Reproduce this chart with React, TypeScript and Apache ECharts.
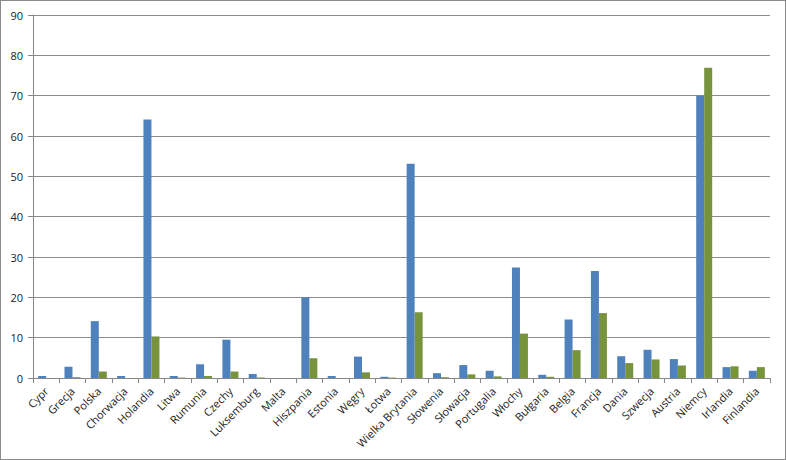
import React, { useEffect, useRef } from "react";
import * as echarts from "echarts";

const categories = [
  "Cypr", "Grecja", "Polska", "Chorwacja", "Holandia", "Litwa", "Rumunia", "Czechy",
  "Luksemburg", "Malta", "Hiszpania", "Estonia", "Węgry", "Łotwa", "Wielka Brytania",
  "Słowenia", "Słowacja", "Portugalia", "Włochy", "Bułgaria", "Belgia", "Francja",
  "Dania", "Szwecja", "Austria", "Niemcy", "Irlandia", "Finlandia",
];

const seriesBlue = [
  0.5, 2.8, 14.1, 0.5, 64.1, 0.5, 3.4, 9.5,
  1.0, 0, 20.0, 0.5, 5.3, 0.3, 53.1,
  1.2, 3.2, 1.8, 27.4, 0.8, 14.5, 26.5,
  5.4, 7.0, 4.7, 70.0, 2.7, 1.8,
];

const seriesGreen = [
  0, 0.2, 1.6, 0, 10.3, 0.1, 0.5, 1.6,
  0.1, 0, 4.9, 0, 1.4, 0.1, 16.3,
  0.2, 0.9, 0.4, 11.0, 0.3, 6.9, 16.1,
  3.7, 4.6, 3.1, 76.9, 2.9, 2.7,
];

const yTicks = { min: 0, max: 90, interval: 10 };

export default function App() {
  const ref = useRef<HTMLDivElement>(null);
  useEffect(() => {
    document.body.style.margin = "0";
    if (!ref.current) return;
    const chart = echarts.init(ref.current, undefined, { renderer: "svg" });
    const font = "'Open Sans', 'DejaVu Sans', sans-serif";
    chart.setOption({
      animation: false,
      backgroundColor: "#ffffff",
      grid: { left: 32, top: 14, right: 15, bottom: 81, containLabel: false },
      xAxis: {
        type: "category",
        data: categories,
        boundaryGap: true,
        axisLine: { show: true, lineStyle: { color: "#868686", width: 1 } },
        axisTick: { show: true, alignWithLabel: false, length: 5, lineStyle: { color: "#868686" } },
        axisLabel: {
          interval: 0,
          rotate: 45,
          color: "#222",
          fontSize: 11,
          fontFamily: font,
          margin: 11,
        },
        splitLine: { show: false },
      },
      yAxis: {
        type: "value",
        min: yTicks.min,
        max: yTicks.max,
        interval: yTicks.interval,
        axisLine: { show: true, lineStyle: { color: "#868686", width: 1 } },
        axisTick: { show: true, length: 5, inside: false, lineStyle: { color: "#868686" } },
        axisLabel: { color: "#222", fontSize: 11, fontFamily: font, margin: 10 },
        splitLine: { show: true, lineStyle: { color: "#8c8c8c", width: 1 } },
      },
      series: [
        {
          type: "bar",
          data: seriesBlue,
          barWidth: 8,
          barGap: "0%",
          itemStyle: { color: "#4F81BD" },
        },
        {
          type: "bar",
          data: seriesGreen,
          barWidth: 8,
          barGap: "0%",
          itemStyle: { color: "#77933C" },
        },
      ],
    });
    return () => chart.dispose();
  }, []);
  return (
    <div
      ref={ref}
      style={{
        width: 786,
        height: 460,
        boxSizing: "border-box",
        border: "1px solid #8a8a8a",
        position: "absolute",
        left: 0,
        top: 0,
      }}
    />
  );
}
